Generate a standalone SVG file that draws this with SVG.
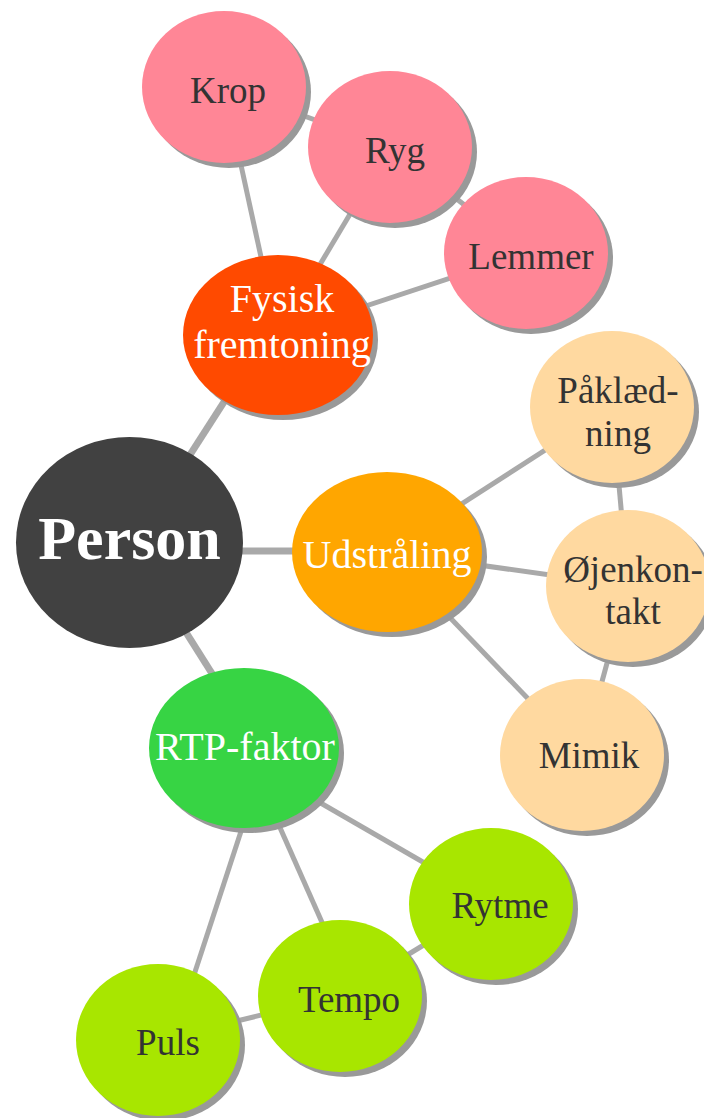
<svg xmlns="http://www.w3.org/2000/svg" width="704" height="1118" viewBox="0 0 704 1118">
  <style>
    .link { stroke: #a9a9a9; stroke-width: 5; fill: none; }
    .trunk { stroke-width: 7; }
    .shadow { fill: #999999; }
    .lbl { font-family: "Liberation Serif", "Times New Roman", serif; text-anchor: middle; }
    .outer { font-size: 37px; fill: #333333; }
    .inner { font-size: 40px; fill: #ffffff; }
    .pink { fill: #ff8696; }
    .peach { fill: #ffd9a0; }
    .lime { fill: #a8e600; }
  </style>
  <rect width="704" height="1118" fill="#ffffff"/>

  <g id="connectors">
    <line class="link trunk" x1="134" y1="542" x2="267" y2="335"/>
    <line class="link trunk" x1="129" y1="551" x2="387" y2="551"/>
    <line class="link trunk" x1="129" y1="542" x2="259" y2="748"/>
    <line class="link" x1="278" y1="335" x2="224" y2="87"/>
    <line class="link" x1="278" y1="335" x2="390" y2="147"/>
    <line class="link" x1="278" y1="335" x2="526" y2="253"/>
    <line class="link" x1="224" y1="87" x2="390" y2="147"/>
    <line class="link" x1="390" y1="147" x2="526" y2="253"/>
    <line class="link" x1="387" y1="552" x2="612" y2="407"/>
    <line class="link" x1="387" y1="552" x2="628" y2="586"/>
    <line class="link" x1="387" y1="552" x2="582" y2="755"/>
    <line class="link" x1="612" y1="407" x2="628" y2="586"/>
    <line class="link" x1="628" y1="586" x2="582" y2="755"/>
    <line class="link" x1="260" y1="768" x2="480" y2="895"/>
    <line class="link" x1="250" y1="760" x2="352" y2="990"/>
    <line class="link" x1="266" y1="755" x2="176" y2="1030"/>
    <line class="link" x1="340" y1="996" x2="491" y2="904"/>
    <line class="link" x1="158" y1="1040" x2="340" y2="996"/>
  </g>

  <g id="node-krop">
    <ellipse class="shadow" cx="229" cy="92" rx="82" ry="76"/>
    <ellipse class="pink" cx="224" cy="87" rx="82" ry="76"/>
    <text class="lbl outer" x="228" y="103">Krop</text>
  </g>
  <g id="node-ryg">
    <ellipse class="shadow" cx="395" cy="152" rx="82" ry="76"/>
    <ellipse class="pink" cx="390" cy="147" rx="82" ry="76"/>
    <text class="lbl outer" x="395" y="163">Ryg</text>
  </g>
  <g id="node-lemmer">
    <ellipse class="shadow" cx="531" cy="258" rx="82" ry="76"/>
    <ellipse class="pink" cx="526" cy="253" rx="82" ry="76"/>
    <text class="lbl outer" x="531" y="269">Lemmer</text>
  </g>
  <g id="node-fysisk">
    <ellipse class="shadow" cx="283" cy="340" rx="95" ry="80"/>
    <ellipse cx="278" cy="335" rx="95" ry="80" fill="#ff4a00"/>
    <text class="lbl inner" x="282" y="312">Fysisk</text>
    <text class="lbl inner" x="282" y="358">fremtoning</text>
  </g>
  <g id="node-paakledning">
    <ellipse class="shadow" cx="617" cy="412" rx="82" ry="76"/>
    <ellipse class="peach" cx="612" cy="407" rx="82" ry="76"/>
    <text class="lbl outer" x="618" y="403">Påklæd-</text>
    <text class="lbl outer" x="618" y="446">ning</text>
  </g>
  <g id="node-ojenkontakt">
    <ellipse class="shadow" cx="633" cy="591" rx="82" ry="76"/>
    <ellipse class="peach" cx="628" cy="586" rx="82" ry="76"/>
    <text class="lbl outer" x="633" y="582">Øjenkon-</text>
    <text class="lbl outer" x="633" y="624">takt</text>
  </g>
  <g id="node-mimik">
    <ellipse class="shadow" cx="587" cy="760" rx="82" ry="76"/>
    <ellipse class="peach" cx="582" cy="755" rx="82" ry="76"/>
    <text class="lbl outer" x="589" y="768">Mimik</text>
  </g>
  <g id="node-udstraaling">
    <ellipse class="shadow" cx="392" cy="557" rx="95" ry="80"/>
    <ellipse cx="387" cy="552" rx="95" ry="80" fill="#ffa600"/>
    <text class="lbl inner" x="387" y="568">Udstråling</text>
  </g>
  <g id="node-rytme">
    <ellipse class="shadow" cx="496" cy="909" rx="82" ry="76"/>
    <ellipse class="lime" cx="491" cy="904" rx="82" ry="76"/>
    <text class="lbl outer" x="500" y="918">Rytme</text>
  </g>
  <g id="node-tempo">
    <ellipse class="shadow" cx="345" cy="1001" rx="82" ry="76"/>
    <ellipse class="lime" cx="340" cy="996" rx="82" ry="76"/>
    <text class="lbl outer" x="349" y="1012">Tempo</text>
  </g>
  <g id="node-puls">
    <ellipse class="shadow" cx="163" cy="1045" rx="82" ry="76"/>
    <ellipse class="lime" cx="158" cy="1040" rx="82" ry="76"/>
    <text class="lbl outer" x="168" y="1055">Puls</text>
  </g>
  <g id="node-rtp">
    <ellipse class="shadow" cx="249" cy="753" rx="95" ry="80"/>
    <ellipse cx="244" cy="748" rx="95" ry="80" fill="#37d444"/>
    <text class="lbl inner" x="245" y="760">RTP-faktor</text>
  </g>
  <g id="node-person">
    <ellipse cx="129.5" cy="542.5" rx="113.5" ry="105.5" fill="#414141"/>
    <text class="lbl" x="129.5" y="559" font-size="62" font-weight="bold" fill="#ffffff">Person</text>
  </g>
</svg>
